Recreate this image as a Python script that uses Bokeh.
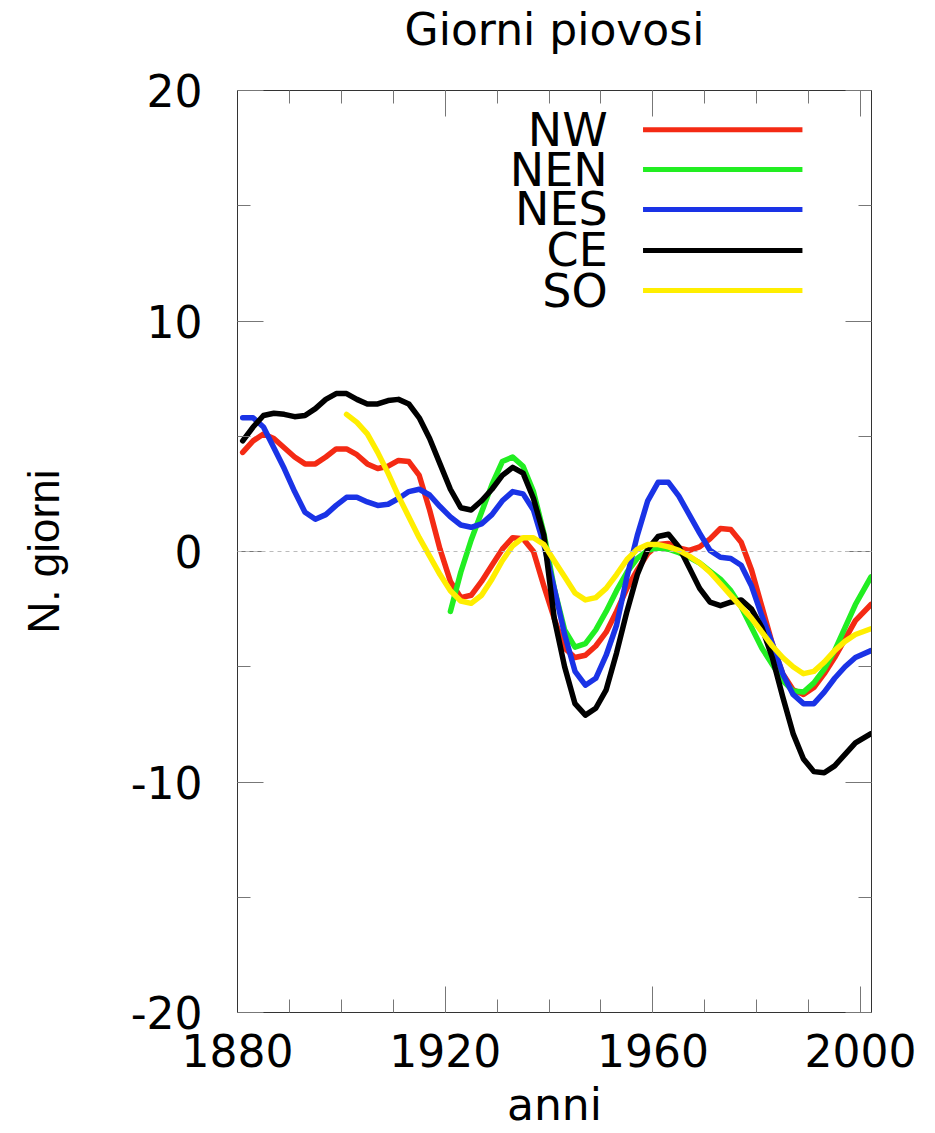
from bokeh.plotting import figure
from bokeh.models import (Range1d, FixedTicker, LinearAxis, Span, ColumnDataSource,
                          CustomJSTickFormatter)
from bokeh.core.properties import value
from bokeh.embed import file_html
from bokeh.resources import INLINE

# ---------------- data ----------------
years_nw = [1881, 1883, 1885, 1887, 1889, 1891, 1893, 1895, 1897, 1899, 1901, 1903, 1905, 1907, 1909,
            1911, 1913, 1915, 1917, 1919, 1921, 1923, 1925, 1927, 1929, 1931, 1933, 1935, 1937, 1939,
            1941, 1943, 1945, 1947, 1949, 1951, 1953, 1955, 1957, 1959, 1961, 1963, 1965, 1967, 1969,
            1971, 1973, 1975, 1977, 1979, 1981, 1983, 1985, 1987, 1989, 1991, 1993, 1995, 1997, 1999, 2002]
nw = [4.3, 4.8, 5.1, 4.9, 4.5, 4.1, 3.8, 3.8, 4.1, 4.45, 4.45, 4.2, 3.8, 3.6, 3.7,
      3.95, 3.9, 3.3, 1.8, 0.1, -1.3, -2.0, -1.9, -1.3, -0.6, 0.1, 0.6, 0.55, 0.0, -1.5,
      -2.9, -4.2, -4.6, -4.5, -4.1, -3.5, -2.6, -1.6, -0.8, -0.1, 0.3, 0.35, 0.15, 0.05, 0.2,
      0.55, 1.0, 0.95, 0.4, -0.8, -2.4, -4.0, -5.3, -6.0, -6.2, -5.9, -5.3, -4.6, -3.8, -3.0, -2.3]

years_nen = [1921, 1923, 1925, 1927, 1929, 1931, 1933, 1935, 1937, 1939, 1941, 1943, 1945, 1947, 1949,
             1951, 1953, 1955, 1957, 1959, 1961, 1963, 1965, 1967, 1969, 1971, 1973, 1975, 1977, 1979,
             1981, 1983, 1985, 1987, 1989, 1991, 1993, 1995, 1997, 1999, 2002]
nen = [-2.6, -0.9, 0.5, 1.7, 2.9, 3.9, 4.1, 3.7, 2.6, 0.8, -1.6, -3.4, -4.15, -4.0, -3.4,
       -2.6, -1.7, -0.9, -0.3, 0.05, 0.15, 0.1, -0.05, -0.25, -0.5, -0.85, -1.2, -1.7, -2.4, -3.3,
       -4.2, -4.9, -5.6, -6.05, -6.1, -5.7, -5.1, -4.3, -3.3, -2.3, -1.1]

years_nes = years_nw
nes = [5.8, 5.8, 5.4, 4.5, 3.6, 2.6, 1.7, 1.4, 1.6, 2.0, 2.35, 2.35, 2.15, 2.0, 2.05,
       2.3, 2.6, 2.7, 2.45, 1.95, 1.5, 1.15, 1.05, 1.2, 1.6, 2.2, 2.6, 2.5, 1.8, 0.3,
       -1.6, -3.6, -5.2, -5.8, -5.5, -4.5, -3.2, -1.1, 0.7, 2.2, 3.0, 3.0, 2.4, 1.6, 0.8,
       0.05, -0.25, -0.3, -0.6, -1.5, -2.8, -4.0, -5.3, -6.2, -6.6, -6.6, -6.1, -5.5, -5.0, -4.6, -4.3]

years_ce = years_nw
ce = [4.8, 5.4, 5.9, 6.0, 5.95, 5.85, 5.9, 6.2, 6.6, 6.85, 6.85, 6.6, 6.4, 6.4, 6.55,
      6.6, 6.4, 5.8, 4.9, 3.8, 2.7, 1.9, 1.8, 2.2, 2.7, 3.3, 3.65, 3.4, 2.3, 0.7,
      -2.9, -5.0, -6.6, -7.1, -6.8, -6.0, -4.4, -2.6, -1.0, 0.1, 0.65, 0.75, 0.2, -0.7, -1.6,
      -2.2, -2.35, -2.2, -2.1, -2.5, -3.3, -4.6, -6.3, -7.9, -9.0, -9.55, -9.6, -9.3, -8.8, -8.3, -7.9]

years_so = [1901, 1903, 1905, 1907, 1909, 1911, 1913, 1915, 1917, 1919, 1921, 1923, 1925, 1927, 1929,
            1931, 1933, 1935, 1937, 1939, 1941, 1943, 1945, 1947, 1949, 1951, 1953, 1955, 1957, 1959,
            1961, 1963, 1965, 1967, 1969, 1971, 1973, 1975, 1977, 1979, 1981, 1983, 1985, 1987, 1989,
            1991, 1993, 1995, 1997, 1999, 2002]
so = [5.95, 5.6, 5.1, 4.3, 3.4, 2.4, 1.5, 0.6, -0.2, -1.0, -1.7, -2.15, -2.25, -1.9, -1.2,
      -0.4, 0.25, 0.6, 0.6, 0.3, -0.4, -1.1, -1.8, -2.1, -2.0, -1.6, -1.0, -0.35, 0.1, 0.3,
      0.3, 0.2, 0.05, -0.2, -0.5, -0.9, -1.4, -1.9, -2.4, -2.9, -3.5, -4.1, -4.6, -5.0, -5.3,
      -5.2, -4.8, -4.3, -3.9, -3.6, -3.35]

series_names = ["NW", "NEN", "NES", "CE", "SO"]
series_colors = ["#f42a14", "#22ee22", "#1a33e6", "#000000", "#ffee00"]
x_ticks = [1880, 1920, 1960, 2000]
x_minor = [1880, 1890, 1900, 1910, 1920, 1930, 1940, 1950, 1960, 1970, 1980, 1990, 2000]
y_ticks = [-20, -10, 0, 10, 20]
y_tick_labels = ["-20", "-10", "0", "10", "20"]
y_minor = [-20, -15, -10, -5, 0, 5, 10, 15, 20]
title_text = "Giorni piovosi"

FONT = "DejaVu Sans"

p = figure(width=927, height=1133, output_backend="svg", toolbar_location=None,
           x_range=Range1d(1880, 2002.1), y_range=Range1d(-20, 20),
           min_border_left=237, min_border_right=56, min_border_top=90, min_border_bottom=121,
           x_axis_label="anni", y_axis_label="N. giorni")
p.grid.visible = False
p.outline_line_color = "#333333"
p.outline_line_width = 1
p.background_fill_color = "white"
p.border_fill_color = "white"


def style_axis(ax, ticks, minor, labels=True):
    ax.ticker = FixedTicker(ticks=ticks, minor_ticks=minor)
    ax.major_tick_in = 26
    ax.major_tick_out = 0
    ax.minor_tick_in = 13
    ax.minor_tick_out = 0
    ax.major_tick_line_color = "#777777"
    ax.minor_tick_line_color = "#777777"
    ax.axis_line_color = "#333333"
    ax.major_label_text_font = FONT
    ax.major_label_text_color = "black"
    if not labels:
        ax.formatter = CustomJSTickFormatter(code="return ''")
        ax.major_label_standoff = 0


xa = p.xaxis[0]
style_axis(xa, x_ticks, x_minor)
xa.major_label_text_font_size = "44px"
xa.major_label_standoff = 21
xa.axis_label_text_font = FONT
xa.axis_label_text_font_size = "44px"
xa.axis_label_text_font_style = "normal"
xa.axis_label_text_color = "black"
xa.axis_label_standoff = 9

ya = p.yaxis[0]
style_axis(ya, y_ticks, y_minor)
ya.major_label_overrides = {t: s for t, s in zip(y_ticks, y_tick_labels)}
ya.major_label_text_font_size = "44px"
ya.major_label_standoff = 35
ya.axis_label_text_font = "Liberation Sans"
ya.axis_label_text_font_size = "44px"
ya.axis_label_text_font_style = "normal"
ya.axis_label_text_color = "black"
ya.axis_label_standoff = 60

# mirror axis on top carries the title text as its label
top = LinearAxis(axis_label=title_text)
style_axis(top, x_ticks, x_minor, labels=False)
top.axis_label_text_font = FONT
top.axis_label_text_font_size = "44px"
top.axis_label_text_font_style = "normal"
top.axis_label_text_color = "black"
top.axis_label_standoff = 36
p.add_layout(top, "above")

right = LinearAxis()
style_axis(right, y_ticks, y_minor, labels=False)
p.add_layout(right, "right")

p.add_layout(Span(location=0, dimension="width", line_color="#bbbbbb",
                  line_dash="4 4", line_width=1))

all_years = [years_nw, years_nen, years_nes, years_ce, years_so]
all_vals = [nw, nen, nes, ce, so]
for yrs, vals, col in zip(all_years, all_vals, series_colors):
    p.line(yrs, vals, line_color=col, line_width=5.5, line_join="round", line_cap="round")

# legend (text right-aligned, sample line on the right)
leg_y = [18.3, 16.57, 14.84, 13.06, 11.32]
leg_src = ColumnDataSource(dict(x=[1951.3] * 5, y=leg_y, text=series_names,
                                x0=[1958.1] * 5, x1=[1988.8] * 5, color=series_colors))
p.text(x="x", y="y", text="text", source=leg_src, text_align="right", text_baseline="middle",
       text_font=value(FONT), text_font_size="46px", text_color="black")
p.segment(x0="x0", y0="y", x1="x1", y1="y", source=leg_src, line_color="color", line_width=5)

open("out.html", "w").write(file_html(p, INLINE))
